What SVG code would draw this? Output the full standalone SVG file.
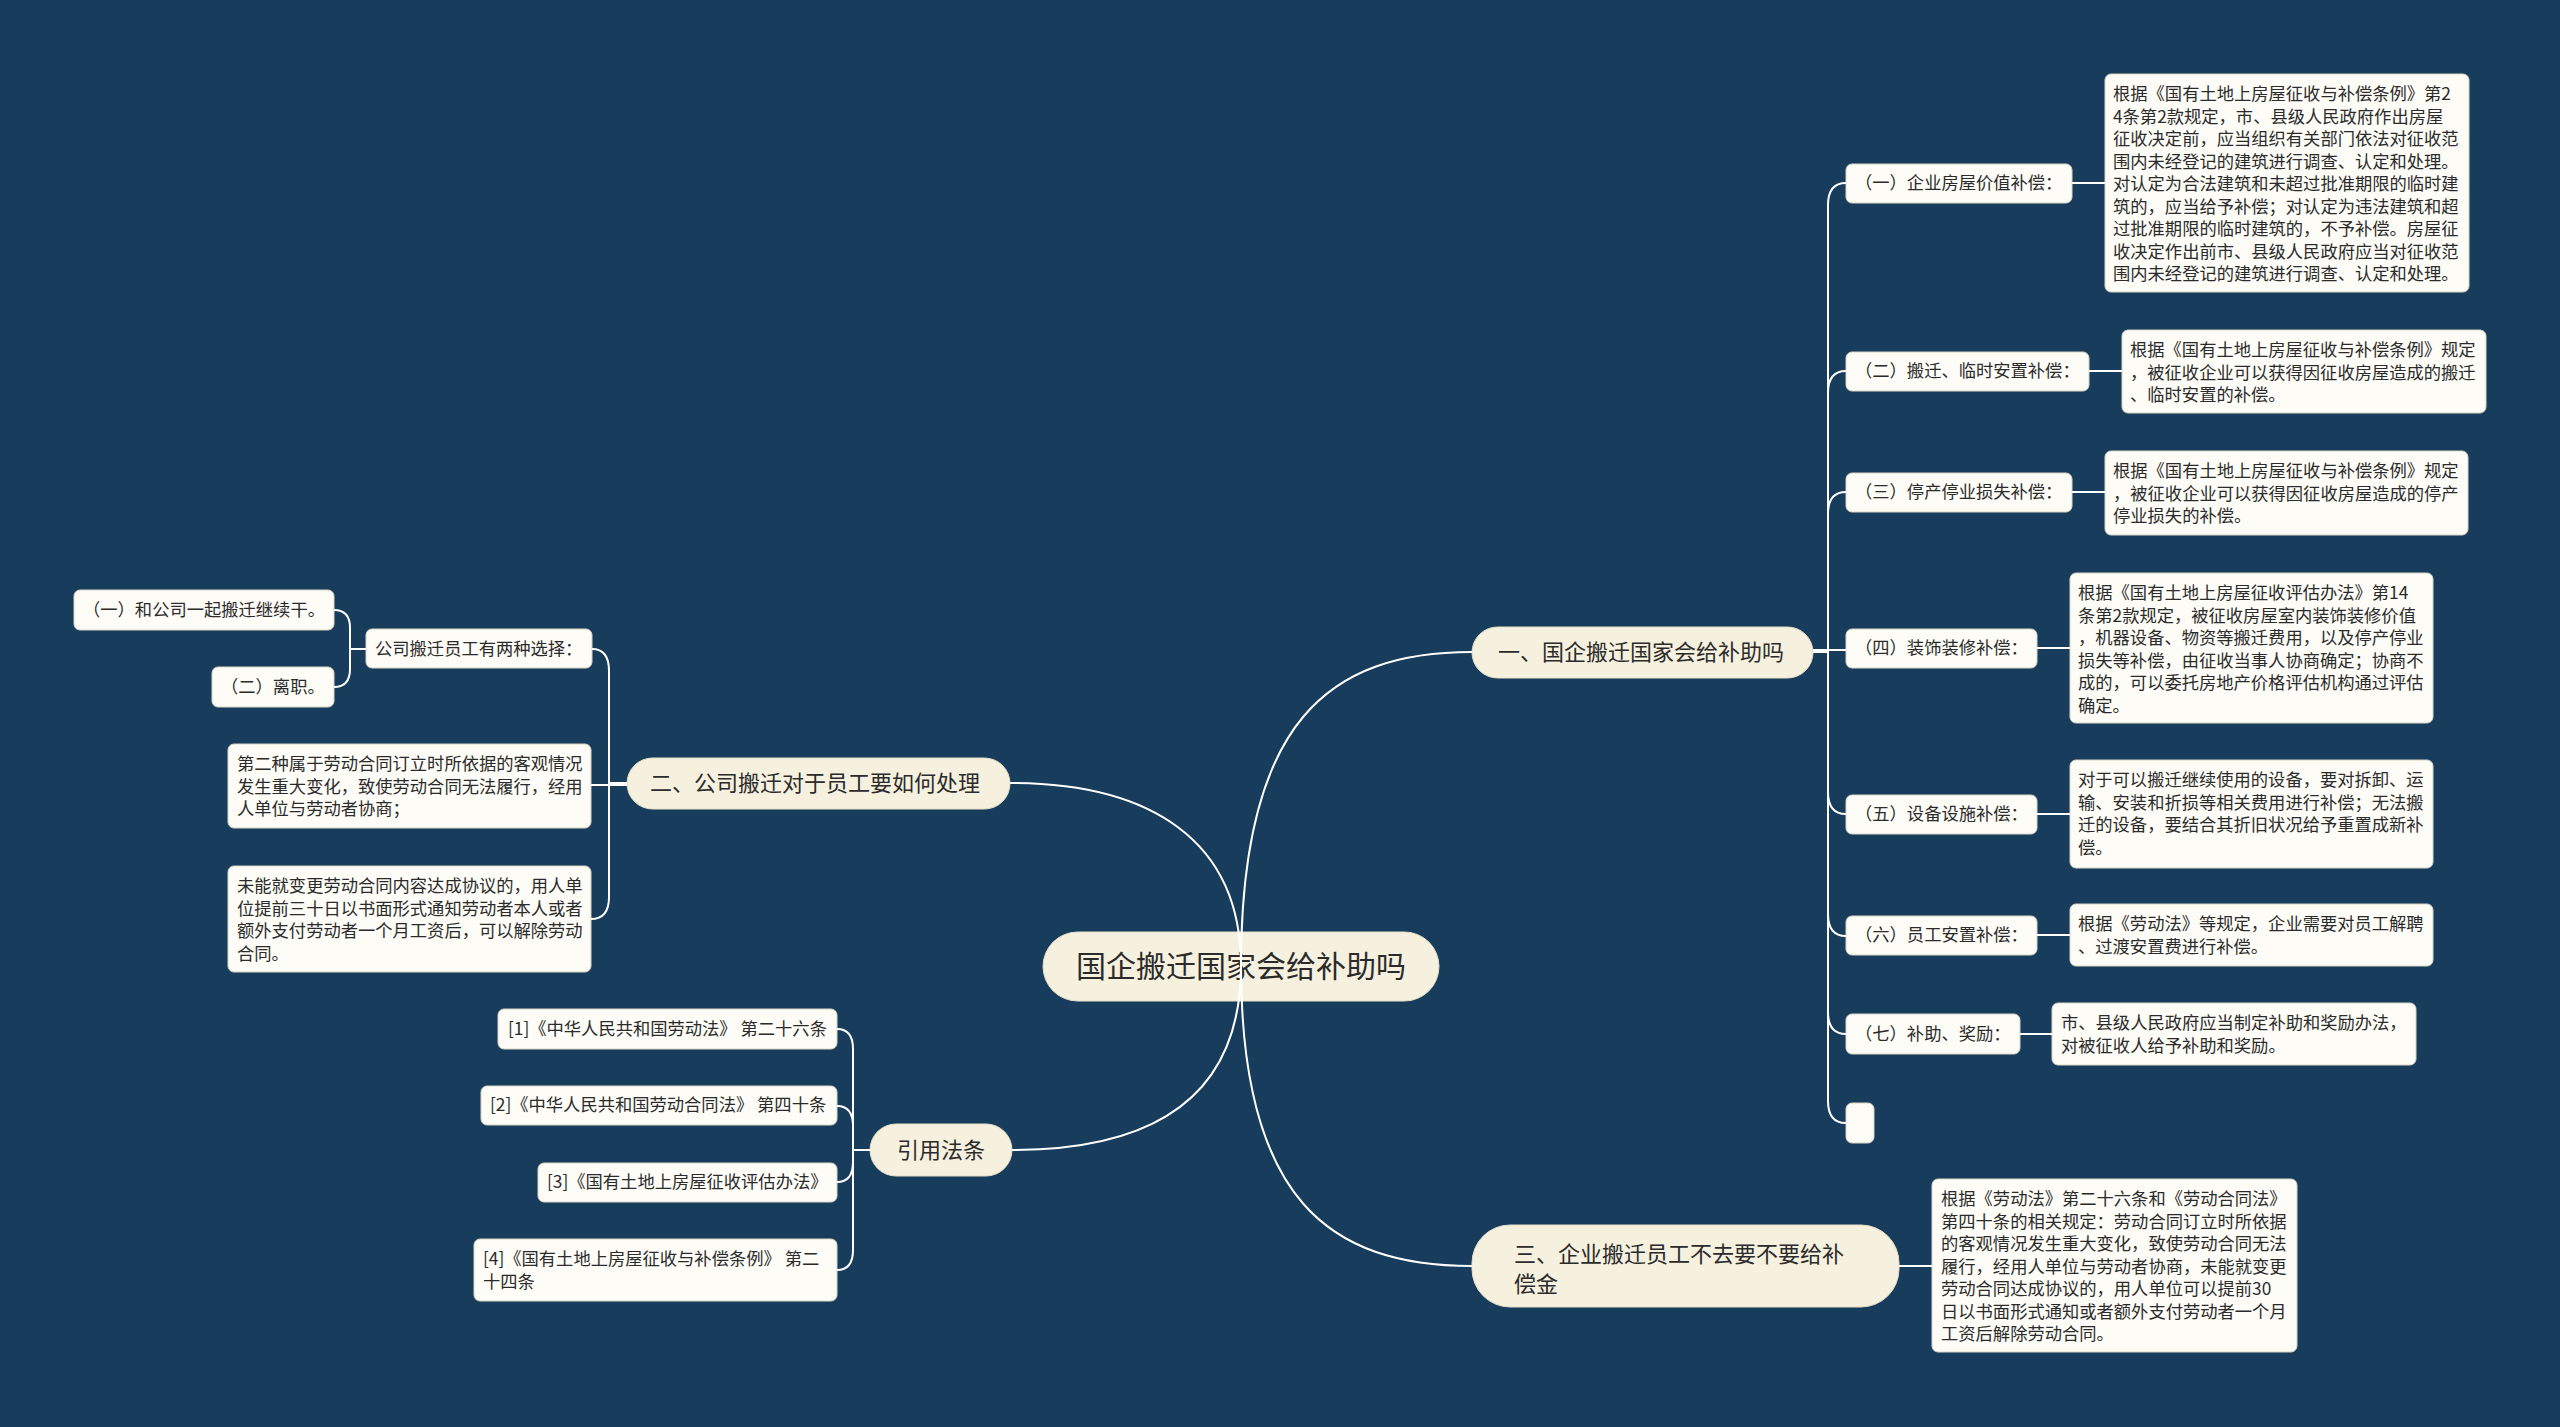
<svg xmlns="http://www.w3.org/2000/svg" width="2560" height="1427" viewBox="0 0 2560 1427">
<style>
  text { font-family: "Noto Sans CJK SC", "Noto Sans", sans-serif; fill: #2b2b2b; }
  .main { fill: #f6f1de; stroke: #e6dfc6; stroke-width: 1; }
  .leaf { fill: #fdfcf6; stroke: #d9d5c6; stroke-width: 1; }
  .t22 { font-size: 22px; }
  .t17 { font-size: 17.3px; }
  .t32 { font-size: 30px; }
  .conn path { fill: none; stroke: #ffffff; stroke-width: 2; }
</style>
<rect x="0" y="0" width="2560" height="1427" fill="#173c5c"/>

<g id="center">
  <rect class="main" x="1043" y="932" width="396" height="69" rx="34.5"/>
  <text class="t32" x="1241" y="977" text-anchor="middle">国企搬迁国家会给补助吗</text>
</g>

<g id="n1">
  <rect class="main" x="1472" y="627" width="341" height="51" rx="25.5"/>
  <text class="t22" x="1498" y="660">一、国企搬迁国家会给补助吗</text>
</g>
<g id="n2">
  <rect class="main" x="627" y="758" width="383" height="51" rx="25.5"/>
  <text class="t22" x="650" y="791">二、公司搬迁对于员工要如何处理</text>
</g>
<g id="n3">
  <rect class="main" x="1472" y="1225" width="427" height="82" rx="38"/>
  <text class="t22" x="1514" y="1262">三、企业搬迁员工不去要不要给补<tspan x="1514" dy="30">偿金</tspan></text>
</g>
<g id="nref">
  <rect class="main" x="870" y="1124" width="142" height="52" rx="26"/>
  <text class="t22" x="941" y="1158" text-anchor="middle">引用法条</text>
</g>

<!-- right branch children -->
<g id="r1">
  <rect class="leaf" x="1846" y="164" width="226" height="39" rx="6"/>
  <text class="t17" x="1855" y="189">（一）企业房屋价值补偿：</text>
</g>
<g id="r1d">
  <rect class="leaf" x="2105" y="74" width="364" height="218" rx="6"/>
  <text class="t17" x="2113" y="100">根据《国有土地上房屋征收与补偿条例》第2<tspan x="2113" dy="22.5">4条第2款规定，市、县级人民政府作出房屋</tspan><tspan x="2113" dy="22.5">征收决定前，应当组织有关部门依法对征收范</tspan><tspan x="2113" dy="22.5">围内未经登记的建筑进行调查、认定和处理。</tspan><tspan x="2113" dy="22.5">对认定为合法建筑和未超过批准期限的临时建</tspan><tspan x="2113" dy="22.5">筑的，应当给予补偿；对认定为违法建筑和超</tspan><tspan x="2113" dy="22.5">过批准期限的临时建筑的，不予补偿。房屋征</tspan><tspan x="2113" dy="22.5">收决定作出前市、县级人民政府应当对征收范</tspan><tspan x="2113" dy="22.5">围内未经登记的建筑进行调查、认定和处理。</tspan></text>
</g>
<g id="r2">
  <rect class="leaf" x="1846" y="352" width="243" height="39" rx="6"/>
  <text class="t17" x="1855" y="377">（二）搬迁、临时安置补偿：</text>
</g>
<g id="r2d">
  <rect class="leaf" x="2122" y="330" width="364" height="83" rx="6"/>
  <text class="t17" x="2130" y="356">根据《国有土地上房屋征收与补偿条例》规定<tspan x="2130" dy="22.5">，被征收企业可以获得因征收房屋造成的搬迁</tspan><tspan x="2130" dy="22.5">、临时安置的补偿。</tspan></text>
</g>
<g id="r3">
  <rect class="leaf" x="1846" y="473" width="226" height="39" rx="6"/>
  <text class="t17" x="1855" y="498">（三）停产停业损失补偿：</text>
</g>
<g id="r3d">
  <rect class="leaf" x="2105" y="451" width="363" height="84" rx="6"/>
  <text class="t17" x="2113" y="477">根据《国有土地上房屋征收与补偿条例》规定<tspan x="2113" dy="22.5">，被征收企业可以获得因征收房屋造成的停产</tspan><tspan x="2113" dy="22.5">停业损失的补偿。</tspan></text>
</g>
<g id="r4">
  <rect class="leaf" x="1846" y="629" width="191" height="39" rx="6"/>
  <text class="t17" x="1855" y="654">（四）装饰装修补偿：</text>
</g>
<g id="r4d">
  <rect class="leaf" x="2070" y="573" width="363" height="150" rx="6"/>
  <text class="t17" x="2078" y="599">根据《国有土地上房屋征收评估办法》第14<tspan x="2078" dy="22.5">条第2款规定，被征收房屋室内装饰装修价值</tspan><tspan x="2078" dy="22.5">，机器设备、物资等搬迁费用，以及停产停业</tspan><tspan x="2078" dy="22.5">损失等补偿，由征收当事人协商确定；协商不</tspan><tspan x="2078" dy="22.5">成的，可以委托房地产价格评估机构通过评估</tspan><tspan x="2078" dy="22.5">确定。</tspan></text>
</g>
<g id="r5">
  <rect class="leaf" x="1846" y="795" width="191" height="39" rx="6"/>
  <text class="t17" x="1855" y="820">（五）设备设施补偿：</text>
</g>
<g id="r5d">
  <rect class="leaf" x="2070" y="760" width="363" height="108" rx="6"/>
  <text class="t17" x="2078" y="786">对于可以搬迁继续使用的设备，要对拆卸、运<tspan x="2078" dy="22.5">输、安装和折损等相关费用进行补偿；无法搬</tspan><tspan x="2078" dy="22.5">迁的设备，要结合其折旧状况给予重置成新补</tspan><tspan x="2078" dy="22.5">偿。</tspan></text>
</g>
<g id="r6">
  <rect class="leaf" x="1846" y="916" width="191" height="39" rx="6"/>
  <text class="t17" x="1855" y="941">（六）员工安置补偿：</text>
</g>
<g id="r6d">
  <rect class="leaf" x="2070" y="904" width="363" height="62" rx="6"/>
  <text class="t17" x="2078" y="930">根据《劳动法》等规定，企业需要对员工解聘<tspan x="2078" dy="22.5">、过渡安置费进行补偿。</tspan></text>
</g>
<g id="r7">
  <rect class="leaf" x="1846" y="1014" width="174" height="40" rx="6"/>
  <text class="t17" x="1855" y="1040">（七）补助、奖励：</text>
</g>
<g id="r7d">
  <rect class="leaf" x="2052" y="1003" width="364" height="62" rx="6"/>
  <text class="t17" x="2061" y="1029">市、县级人民政府应当制定补助和奖励办法，<tspan x="2061" dy="22.5">对被征收人给予补助和奖励。</tspan></text>
</g>
<g id="r8">
  <rect class="leaf" x="1846" y="1103" width="28" height="40" rx="6"/>
</g>

<g id="n3d">
  <rect class="leaf" x="1932" y="1179" width="365" height="173" rx="6"/>
  <text class="t17" x="1941" y="1205">根据《劳动法》第二十六条和《劳动合同法》<tspan x="1941" dy="22.5">第四十条的相关规定：劳动合同订立时所依据</tspan><tspan x="1941" dy="22.5">的客观情况发生重大变化，致使劳动合同无法</tspan><tspan x="1941" dy="22.5">履行，经用人单位与劳动者协商，未能就变更</tspan><tspan x="1941" dy="22.5">劳动合同达成协议的，用人单位可以提前30</tspan><tspan x="1941" dy="22.5">日以书面形式通知或者额外支付劳动者一个月</tspan><tspan x="1941" dy="22.5">工资后解除劳动合同。</tspan></text>
</g>

<!-- left branch -->
<g id="l1">
  <rect class="leaf" x="366" y="629" width="226" height="39" rx="6"/>
  <text class="t17" x="375" y="655">公司搬迁员工有两种选择：</text>
</g>
<g id="l1a">
  <rect class="leaf" x="74" y="590" width="260" height="40" rx="6"/>
  <text class="t17" x="83" y="616">（一）和公司一起搬迁继续干。</text>
</g>
<g id="l1b">
  <rect class="leaf" x="212" y="667" width="122" height="40" rx="6"/>
  <text class="t17" x="221" y="693">（二）离职。</text>
</g>
<g id="l2">
  <rect class="leaf" x="228" y="744" width="363" height="84" rx="6"/>
  <text class="t17" x="237" y="770">第二种属于劳动合同订立时所依据的客观情况<tspan x="237" dy="22.5">发生重大变化，致使劳动合同无法履行，经用</tspan><tspan x="237" dy="22.5">人单位与劳动者协商；</tspan></text>
</g>
<g id="l3">
  <rect class="leaf" x="228" y="866" width="363" height="106" rx="6"/>
  <text class="t17" x="237" y="892">未能就变更劳动合同内容达成协议的，用人单<tspan x="237" dy="22.5">位提前三十日以书面形式通知劳动者本人或者</tspan><tspan x="237" dy="22.5">额外支付劳动者一个月工资后，可以解除劳动</tspan><tspan x="237" dy="22.5">合同。</tspan></text>
</g>

<!-- references -->
<g id="ref1">
  <rect class="leaf" x="498" y="1009" width="339" height="40" rx="6"/>
  <text class="t17" x="508" y="1035">[1]《中华人民共和国劳动法》 第二十六条</text>
</g>
<g id="ref2">
  <rect class="leaf" x="481" y="1086" width="356" height="39" rx="6"/>
  <text class="t17" x="490" y="1111">[2]《中华人民共和国劳动合同法》 第四十条</text>
</g>
<g id="ref3">
  <rect class="leaf" x="538" y="1163" width="299" height="39" rx="6"/>
  <text class="t17" x="547" y="1188">[3]《国有土地上房屋征收评估办法》</text>
</g>
<g id="ref4">
  <rect class="leaf" x="474" y="1239" width="363" height="62" rx="6"/>
  <text class="t17" x="483" y="1265">[4]《国有土地上房屋征收与补偿条例》 第二<tspan x="483" dy="22.5">十四条</tspan></text>
</g>

<g id="connectors" class="conn">
  <!-- center to main branches -->
  <path d="M1241,966 C1241,720 1330,652 1472,652"/>
  <path d="M1241,966 C1241,840 1150,783 1010,783"/>
  <path d="M1241,966 C1241,1100 1150,1150 1012,1150"/>
  <path d="M1241,966 C1241,1200 1330,1266 1472,1266"/>
  <!-- branch 1 children -->
  <path d="M1813,652 H1828 V205 Q1828,183 1846,183"/>
  <path d="M1813,652 H1828 V393 Q1828,371 1846,371"/>
  <path d="M1813,652 H1828 V514 Q1828,492 1846,492"/>
  <path d="M1813,650 H1846"/>
  <path d="M1813,652 H1828 V792 Q1828,814 1846,814"/>
  <path d="M1813,652 H1828 V914 Q1828,936 1846,936"/>
  <path d="M1813,652 H1828 V1012 Q1828,1034 1846,1034"/>
  <path d="M1813,652 H1828 V1101 Q1828,1123 1846,1123"/>
  <!-- branch 1 leaf links -->
  <path d="M2072,183 H2105"/>
  <path d="M2089,371 H2122"/>
  <path d="M2072,492 H2105"/>
  <path d="M2037,648 H2070"/>
  <path d="M2037,814 H2070"/>
  <path d="M2037,935 H2070"/>
  <path d="M2020,1034 H2052"/>
  <path d="M1899,1266 H1932"/>
  <!-- branch 2 children -->
  <path d="M627,783 H609 V671 Q609,649 592,649"/>
  <path d="M627,785 H591"/>
  <path d="M627,783 H609 V897 Q609,919 591,919"/>
  <path d="M366,649 H350 V628 Q350,610 334,610"/>
  <path d="M366,649 H350 V669 Q350,687 334,687"/>
  <!-- references -->
  <path d="M870,1150 H853 V1049 Q853,1029 837,1029"/>
  <path d="M870,1150 H853 V1126 Q853,1106 837,1106"/>
  <path d="M870,1150 H853 V1162 Q853,1182 837,1182"/>
  <path d="M870,1150 H853 V1250 Q853,1270 837,1270"/>
</g>
</svg>
